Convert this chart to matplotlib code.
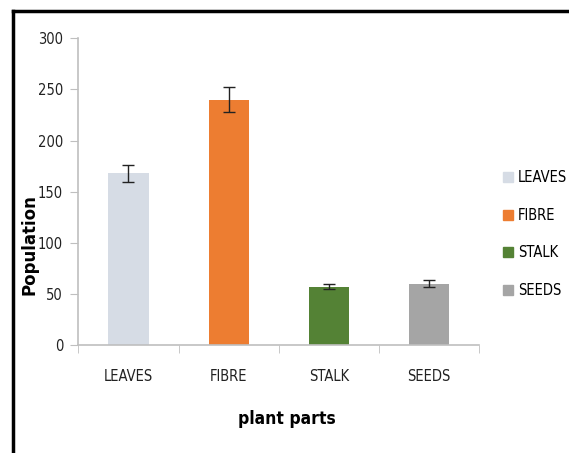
import matplotlib
matplotlib.use("Agg")
import matplotlib.pyplot as plt
from matplotlib.lines import Line2D
from matplotlib.font_manager import fontManager, FontProperties

categories = ["LEAVES", "FIBRE", "STALK", "SEEDS"]
values = [168, 240, 57, 60]
errors = [8.5, 12, 2.7, 3.3]
colors = ["#D6DCE5", "#ED7D31", "#548235", "#A5A5A5"]
yticks = [0, 50, 100, 150, 200, 250, 300]


def find_condensed(bold):
    for f in fontManager.ttflist:
        nm = (f.name + " " + f.fname).lower()
        if ("narrow" in nm or "condensed" in nm) and f.style == "normal":
            w = f.weight if isinstance(f.weight, int) else {"normal": 400, "regular": 400, "bold": 700}.get(str(f.weight), 400)
            if bold and w == 700 and "semi" not in nm and "extra" not in nm:
                return f.fname
            if not bold and w == 400 and "semi" not in nm and "extra" not in nm:
                return f.fname
    return None


reg_path = find_condensed(False)
bold_path = find_condensed(True)


def reg(size):
    if reg_path:
        return FontProperties(fname=reg_path, size=size)
    return FontProperties(family="Liberation Sans", size=size * 0.9)


def bold(size):
    if bold_path:
        return FontProperties(fname=bold_path, size=size)
    return FontProperties(family="Liberation Sans", weight="bold", size=size * 0.8)


fig = plt.figure(figsize=(5.69, 4.53), dpi=100)
W, H = 569, 453
L, R, T, B = 78.4, 479, 38.3, 345
ax = fig.add_axes([L / W, 1 - B / H, (R - L) / W, (B - T) / H])

x = range(len(categories))
ax.bar(x, values, width=0.4, color=colors, yerr=errors,
       error_kw=dict(ecolor="#222222", elinewidth=1.0, capsize=4, capthick=1.0))
ax.set_xlim(-0.5, len(categories) - 0.5)
ax.set_ylim(0, 300)
ax.set_yticks(yticks)
ax.set_yticklabels([str(t) for t in yticks], fontproperties=reg(10.5), color="#222222")
ax.set_xticks(list(x))
ax.set_xticklabels(categories, fontproperties=reg(10.5), color="#222222")
ax.set_xticks([-0.5, 0.5, 1.5, 2.5, 3.5], minor=True)
ax.tick_params(axis='x', which='major', length=0, pad=17)
ax.tick_params(axis='x', which='minor', length=6, color="#BFBFBF", direction='out')
ax.tick_params(axis='y', length=6, color="#BFBFBF", pad=5)
for s in ["top", "right"]:
    ax.spines[s].set_visible(False)
for s in ["left", "bottom"]:
    ax.spines[s].set_color("#BFBFBF")
    ax.spines[s].set_linewidth(1.2)

fig.text(287 / W, 1 - 419 / H, "plant parts", fontproperties=bold(12.5),
         ha="center", va="center")
fig.text(30 / W, 1 - 245 / H, "Population", rotation=90, fontsize=12,
         fontweight="bold", family="DejaVu Sans", ha="center", va="center")

handles = [Line2D([0], [0], marker='s', linestyle='none', markersize=7.5,
                  markerfacecolor=c, markeredgecolor=c) for c in colors]
fig.legend(handles, categories, loc="center left",
           bbox_to_anchor=(500 / W, 1 - 234 / H), frameon=False,
           prop=reg(10.5), labelspacing=1.55, handletextpad=0.15,
           handlelength=1.1, borderaxespad=0, borderpad=0)

# outer frame (clipped at right and bottom)
fig.add_artist(Line2D([12.5 / W, 1.0], [1 - 11 / H, 1 - 11 / H], color="black", lw=2.5,
                      transform=fig.transFigure))
fig.add_artist(Line2D([12.5 / W, 12.5 / W], [1 - 11 / H, 0], color="black", lw=2.5,
                      transform=fig.transFigure))

fig.savefig("out.png", dpi=100)
